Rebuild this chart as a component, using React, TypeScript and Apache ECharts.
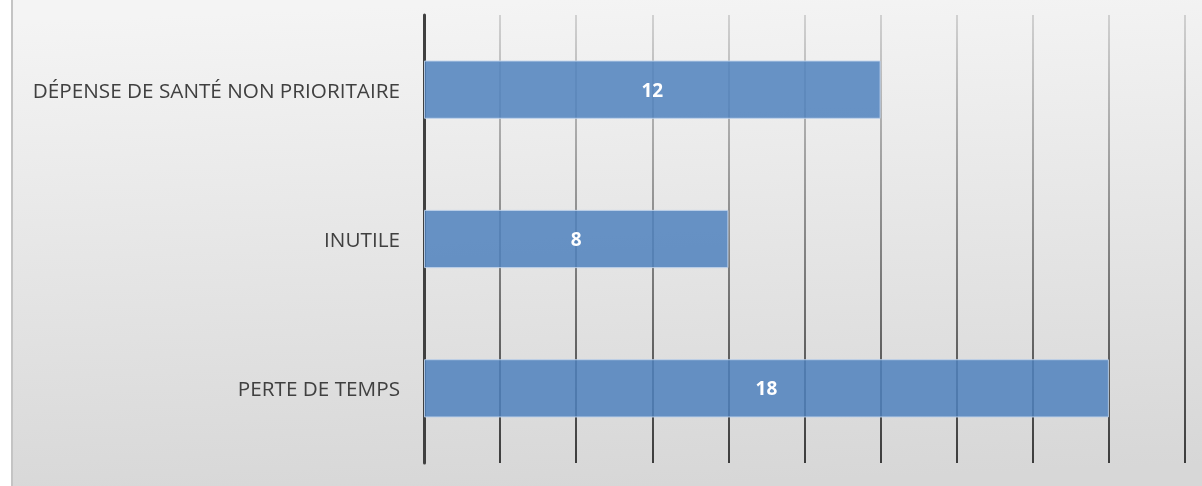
import React, { useEffect, useRef } from "react";
import * as echarts from "echarts";

const categories = ["DÉPENSE DE SANTÉ NON PRIORITAIRE", "INUTILE", "PERTE DE TEMPS"];
const values = [12, 8, 18];
const xMin = 0;
const xMax = 20;
const xInterval = 2;

export default function App() {
  const ref = useRef<HTMLDivElement>(null);
  useEffect(() => {
    if (!ref.current) return;
    const chart = echarts.init(ref.current, undefined, { renderer: "svg" });
    const W = 1202, H = 486;
    const gridTop = 15, gridBottom = 23, gridLeft = 424, gridRight = 17;
    chart.setOption({
      animation: false,
      graphic: [
        {
          type: "rect",
          z: -100,
          silent: true,
          shape: { x: 12, y: 0, width: W - 12, height: H },
          style: {
            fill: new echarts.graphic.LinearGradient(0.45, 0, 0.55, 1, [
              { offset: 0, color: "#f4f4f4" },
              { offset: 1, color: "#d7d7d7" },
            ]),
          },
        },
        {
          type: "line",
          z: -99,
          silent: true,
          shape: { x1: 12, y1: 0, x2: 12, y2: H },
          style: { stroke: "#c4c4c4", lineWidth: 2 },
        },
      ],
      grid: { left: gridLeft, right: gridRight, top: gridTop, bottom: gridBottom, containLabel: false },
      xAxis: {
        type: "value",
        min: xMin,
        max: xMax,
        interval: xInterval,
        axisLabel: { show: false },
        axisTick: { show: false },
        axisLine: { show: false },
        splitLine: {
          show: true,
          lineStyle: {
            width: 1.6,
            color: new echarts.graphic.LinearGradient(
              0, gridTop, 0, H - gridBottom,
              [
                { offset: 0, color: "#c8c8c8" },
                { offset: 1, color: "#151515" },
              ],
              true
            ),
          },
        },
      },
      yAxis: {
        type: "category",
        data: categories,
        inverse: true,
        axisTick: { show: false },
        axisLine: { show: true, lineStyle: { color: "#404040", width: 3 } },
        axisLabel: {
          margin: 24,
          color: "#404040",
          fontSize: 20.7,
          fontFamily: "Open Sans",
        },
        splitLine: { show: false },
      },
      series: [
        {
          type: "bar",
          data: values,
          barCategoryGap: "61%",
          itemStyle: {
            color: "rgba(79,129,189,0.85)",
            borderColor: "rgba(190,210,235,0.9)",
            borderWidth: 1,
          },
          label: {
            show: true,
            position: "inside",
            color: "#ffffff",
            fontWeight: "bold",
            fontSize: 19,
            fontFamily: "Open Sans",
          },
        },
      ],
    });
    return () => chart.dispose();
  }, []);
  return (
    <div
      ref={ref}
      style={{ position: "fixed", left: 0, top: 0, width: 1202, height: 486 }}
    />
  );
}
